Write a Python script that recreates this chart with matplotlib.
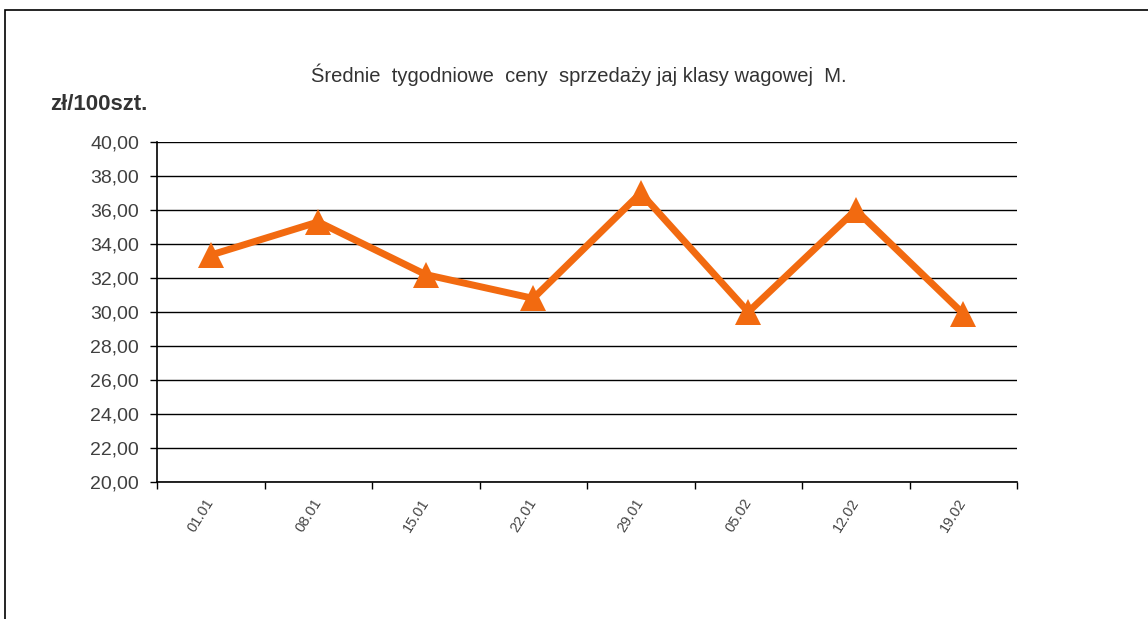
import matplotlib
matplotlib.use("Agg")
import matplotlib.pyplot as plt
from matplotlib.patches import Rectangle

dates = ["01.01", "08.01", "15.01", "22.01", "29.01", "05.02", "12.02", "19.02"]
prices = [33.35, 35.3, 32.2, 30.8, 37.0, 30.0, 36.0, 29.9]
yticks = [20, 22, 24, 26, 28, 30, 32, 34, 36, 38, 40]

plt.rcParams['font.family'] = ['Liberation Sans', 'DejaVu Sans']

W, H = 1148, 619
fig = plt.figure(figsize=(W / 100, H / 100), dpi=100)
fig.patch.set_facecolor("white")

# outer frame
fig.add_artist(Rectangle((5 / W, -0.05), 1.2, 1 - 10 / H + 0.05, transform=fig.transFigure,
                         fill=False, edgecolor="black", linewidth=1.2))

ax = fig.add_axes([157 / W, 1 - 482 / H, (1017 - 157) / W, (482 - 142) / H])
xs = [i + 0.5 for i in range(len(dates))]
ax.plot(xs, prices, color="#F26A10", linewidth=5, marker="^", markersize=19,
        markeredgewidth=0, solid_joinstyle="miter", zorder=3)

ax.set_xlim(0, len(dates))
ax.set_ylim(20, 40)
ax.set_yticks(yticks)
ax.set_yticklabels([f"{v:.2f}".replace(".", ",") for v in yticks], fontsize=14, color="#404040")
ax.yaxis.grid(True, color="black", linewidth=1)
ax.set_axisbelow(True)

ax.set_xticks(range(len(dates) + 1))
ax.set_xticklabels([])
ax.set_xticks(xs, minor=True)
ax.set_xticklabels(dates, minor=True, rotation=58, ha="right", va="center",
                   rotation_mode="anchor", fontsize=10.5, color="#444444")
ax.tick_params(axis="x", which="minor", length=0, pad=13)
ax.tick_params(axis="x", which="major", length=5, width=1, direction="out")
ax.tick_params(axis="y", length=5, width=1, direction="out", pad=8)

for s in ["top", "right"]:
    ax.spines[s].set_visible(False)
for s in ["left", "bottom"]:
    ax.spines[s].set_color("black")
    ax.spines[s].set_linewidth(1.2)

fig.text(579 / W, 1 - 75 / H, "Średnie  tygodniowe  ceny  sprzedaży jaj klasy wagowej  M.",
         ha="center", va="center", fontsize=14.5, color="#333333")
fig.text(50 / W, 1 - 104 / H, "zł/100szt.", ha="left", va="center", fontsize=16,
         fontweight="bold", color="#333333")

fig.savefig("out.png", dpi=100, facecolor="white")
